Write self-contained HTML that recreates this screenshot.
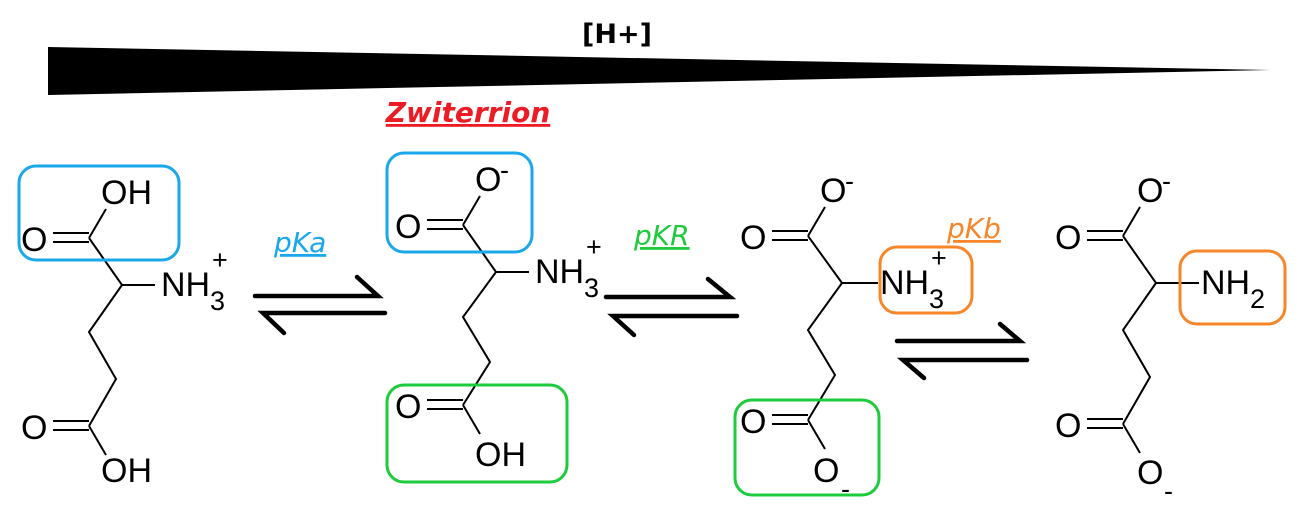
<!DOCTYPE html>
<html><head><meta charset="utf-8"><style>
html,body{margin:0;padding:0;background:#fff;}
svg{display:block;}
.b{stroke:#000;stroke-width:2;fill:none;}
.ar{stroke:#000;stroke-width:4.5;fill:none;stroke-linecap:round;}
</style></head><body>
<svg width="1305" height="515" viewBox="0 0 1305 515" xmlns="http://www.w3.org/2000/svg" font-family="Liberation Sans, Arial, sans-serif">
<defs>
<g id="chain">
<path class="b" d="M-36,-5H0M-36,4H0M0,0L17,-29M0,0L33,47L66,47M33,47L0,94L27,141L0,188M-36,183H0M-36,192H0M0,188L17,217"/>
<text font-family="Liberation Sans, sans-serif" font-size="34" x="-68" y="13">O</text>
<text font-family="Liberation Sans, sans-serif" font-size="34" x="-68" y="201">O</text>
</g>
</defs>
<text x="617" y="43" text-anchor="middle" font-family="DejaVu Sans, sans-serif" font-weight="bold" font-size="27">[H+]</text>
<polygon points="48,47 1270,70 48,95" fill="#000"/>
<text x="468" y="122" text-anchor="middle" font-family="DejaVu Sans, sans-serif" font-weight="bold" font-style="italic" font-size="28" fill="#ed1c24" text-decoration="underline">Zwiterrion</text>

<g font-family="Liberation Sans, sans-serif" font-size="34">
<!-- mol1 -->
<g transform="translate(89,238)">
<use href="#chain"/>
<text x="12" y="-34">OH</text>
<text x="12" y="244">OH</text>
<text x="72" y="58">NH</text><text font-size="27" x="121" y="72">3</text><text font-size="27" x="123" y="31">+</text>
</g>
<!-- mol2 -->
<g transform="translate(463,225)">
<path class="b" d="M-36,-5H0M-36,4H0M0,0L17,-29M0,0L33,47L66,47M33,47L0,92L27,137L0,180M-36,175H0M-36,184H0M0,180L17,209"/>
<text x="-68" y="13">O</text>
<text x="-68" y="193">O</text>
<text x="12" y="-34">O</text><text font-size="27" x="37" y="-46">-</text>
<text x="12" y="241">OH</text>
<text x="72" y="58">NH</text><text font-size="27" x="121" y="72">3</text><text font-size="27" x="123" y="31">+</text>
</g>
<!-- mol3 -->
<g transform="translate(808,236)">
<path class="b" d="M-36,-5H0M-36,4H0M0,0L17,-29M0,0L34,47L70,47M34,47L0,94L27,139L0,184M-36,179H0M-36,188H0M0,184L17,213"/>
<text x="-68" y="13">O</text>
<text x="-68" y="197">O</text>
<text x="12" y="-34">O</text><text font-size="27" x="37" y="-46">-</text>
<text x="5" y="246">O</text><text font-size="27" x="33" y="262">-</text>
<text x="72" y="58">NH</text><text font-size="27" x="121" y="72">3</text><text font-size="27" x="123" y="31">+</text>
</g>
<!-- mol4 -->
<g transform="translate(1123,236)">
<use href="#chain"/>
<text x="14" y="-34">O</text><text font-size="27" x="39" y="-46">-</text>
<text x="14" y="248">O</text><text font-size="27" x="41" y="264">-</text>
<text x="78" y="58">NH</text><text font-size="27" x="127" y="72">2</text>
</g>
</g>
<path class="b" d="M1189,283H1199"/>

<rect x="19" y="166" width="160" height="94" rx="17" fill="none" stroke="#1aa7ec" stroke-width="3"/>
<rect x="387" y="153" width="145" height="99" rx="17" fill="none" stroke="#1aa7ec" stroke-width="3"/>
<rect x="387" y="385" width="180" height="97" rx="17" fill="none" stroke="#1ecb3c" stroke-width="3"/>
<rect x="880" y="247" width="92" height="66" rx="17" fill="none" stroke="#f7862a" stroke-width="3"/>
<rect x="735" y="400" width="144" height="95" rx="17" fill="none" stroke="#1ecb3c" stroke-width="3"/>
<rect x="1180" y="251" width="105" height="73" rx="17" fill="none" stroke="#f7862a" stroke-width="3"/>

<g font-family="DejaVu Sans, sans-serif" font-style="italic" font-size="28">
<text x="274" y="252" fill="#1aa7ec" text-decoration="underline">pKa</text>
<text x="634" y="245" fill="#1ecb3c" text-decoration="underline">pKR</text>
<text x="947" y="238" fill="#f7862a" text-decoration="underline">pKb</text>
</g>
<path class="ar" d="M255,296H378L357,277M385,313H263L284,333"/>
<path class="ar" d="M606,297H730L708,279M737,316H613L634,335"/>
<path class="ar" d="M897,341H1020L1000,324M1027,360H903L924,378"/>
</svg>
</body></html>
